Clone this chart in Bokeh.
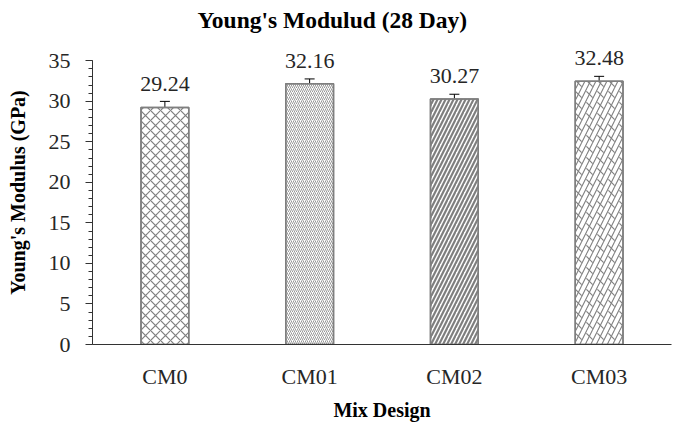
from bokeh.plotting import figure
from bokeh.models import ColumnDataSource, Whisker, TeeHead, LabelSet, SingleIntervalTicker
from bokeh.embed import file_html
from bokeh.resources import INLINE

categories = ["CM0", "CM01", "CM02", "CM03"]
modulus = [29.24, 32.16, 30.27, 32.48]
errors = [0.75, 0.6, 0.6, 0.6]

patterns = ["diagonal_cross", "right_diagonal_line", "right_diagonal_line", "right_diagonal_line"]
hscales = [10, 4, 8, 11]
hweights = [1.2, 0.8, 2.2, 1.1]
overlay_patterns = [" ", " ", " ", "left_diagonal_dash"]

src = ColumnDataSource(dict(
    x=categories, y=modulus,
    upper=[v + e for v, e in zip(modulus, errors)],
    lower=[v - e for v, e in zip(modulus, errors)],
    label=[f"{v:.2f}" for v in modulus],
    pat=patterns, hs=hscales, hw=hweights, pat2=overlay_patterns,
))

FONT = "Liberation Serif"

p = figure(x_range=categories, y_range=(0, 37.5), width=673, height=427,
           output_backend="svg", toolbar_location=None,
           title="Young's Modulud (28 Day)",
           min_border_left=92, min_border_right=2, min_border_top=40, min_border_bottom=83)

p.vbar(x="x", top="y", width=0.33, source=src, fill_color="white",
       line_color="#7f7f7f", line_width=1.5,
       hatch_pattern="pat", hatch_scale="hs", hatch_weight="hw", hatch_color="#7f7f7f")
p.vbar(x="x", top="y", width=0.33, source=src, fill_color=None,
       line_color="#7f7f7f", line_width=1.5,
       hatch_pattern="pat2", hatch_scale=11, hatch_weight=1.1, hatch_color="#7f7f7f")

w = Whisker(base="x", upper="upper", lower="lower", source=src,
            line_color="black", line_width=1,
            upper_head=TeeHead(size=10, line_color="black", line_width=1),
            lower_head=TeeHead(size=10, line_color="black", line_width=1))
p.add_layout(w)

labels = LabelSet(x="x", y="y", text="label", source=src, text_align="center",
                  text_baseline="middle", y_offset=23, text_font=FONT,
                  text_font_size="22px", text_color="#262626")
p.add_layout(labels)

p.title.align = "left"
p.title.offset = 105
p.title.standoff = 12
p.title.vertical_align = "top"
p.title.text_font = FONT
p.title.text_font_size = "23.5px"
p.title.text_font_style = "bold"
p.title.text_color = "black"

p.xgrid.grid_line_color = None
p.ygrid.grid_line_color = None
p.outline_line_color = None

p.yaxis.ticker = SingleIntervalTicker(interval=5, num_minor_ticks=5)
p.yaxis.bounds = (0, 35)
p.yaxis.axis_label = "Young's Modulus (GPa)"
p.xaxis.axis_label = "Mix Design"
for ax in (p.xaxis, p.yaxis):
    ax.axis_label_text_font = FONT
    ax.axis_label_text_font_size = "20px"
    ax.axis_label_text_font_style = "bold"
    ax.axis_label_text_color = "black"
    ax.major_label_text_font = FONT
    ax.major_label_text_font_size = "22px"
    ax.major_label_text_color = "#262626"
    ax.axis_line_color = "#333333"

p.yaxis.major_tick_out = 7
p.yaxis.major_tick_in = 0
p.yaxis.minor_tick_out = 4
p.yaxis.minor_tick_in = 0
p.yaxis.major_tick_line_color = "#333333"
p.yaxis.minor_tick_line_color = "#333333"
p.yaxis.major_label_standoff = 15
p.yaxis.axis_label_standoff = 17

p.xaxis.major_tick_line_color = None
p.xaxis.minor_tick_line_color = None
p.xaxis.major_label_standoff = 13
p.xaxis.axis_label_standoff = 7
p.x_range.range_padding = 0.0

open("out.html", "w").write(file_html(p, INLINE))
